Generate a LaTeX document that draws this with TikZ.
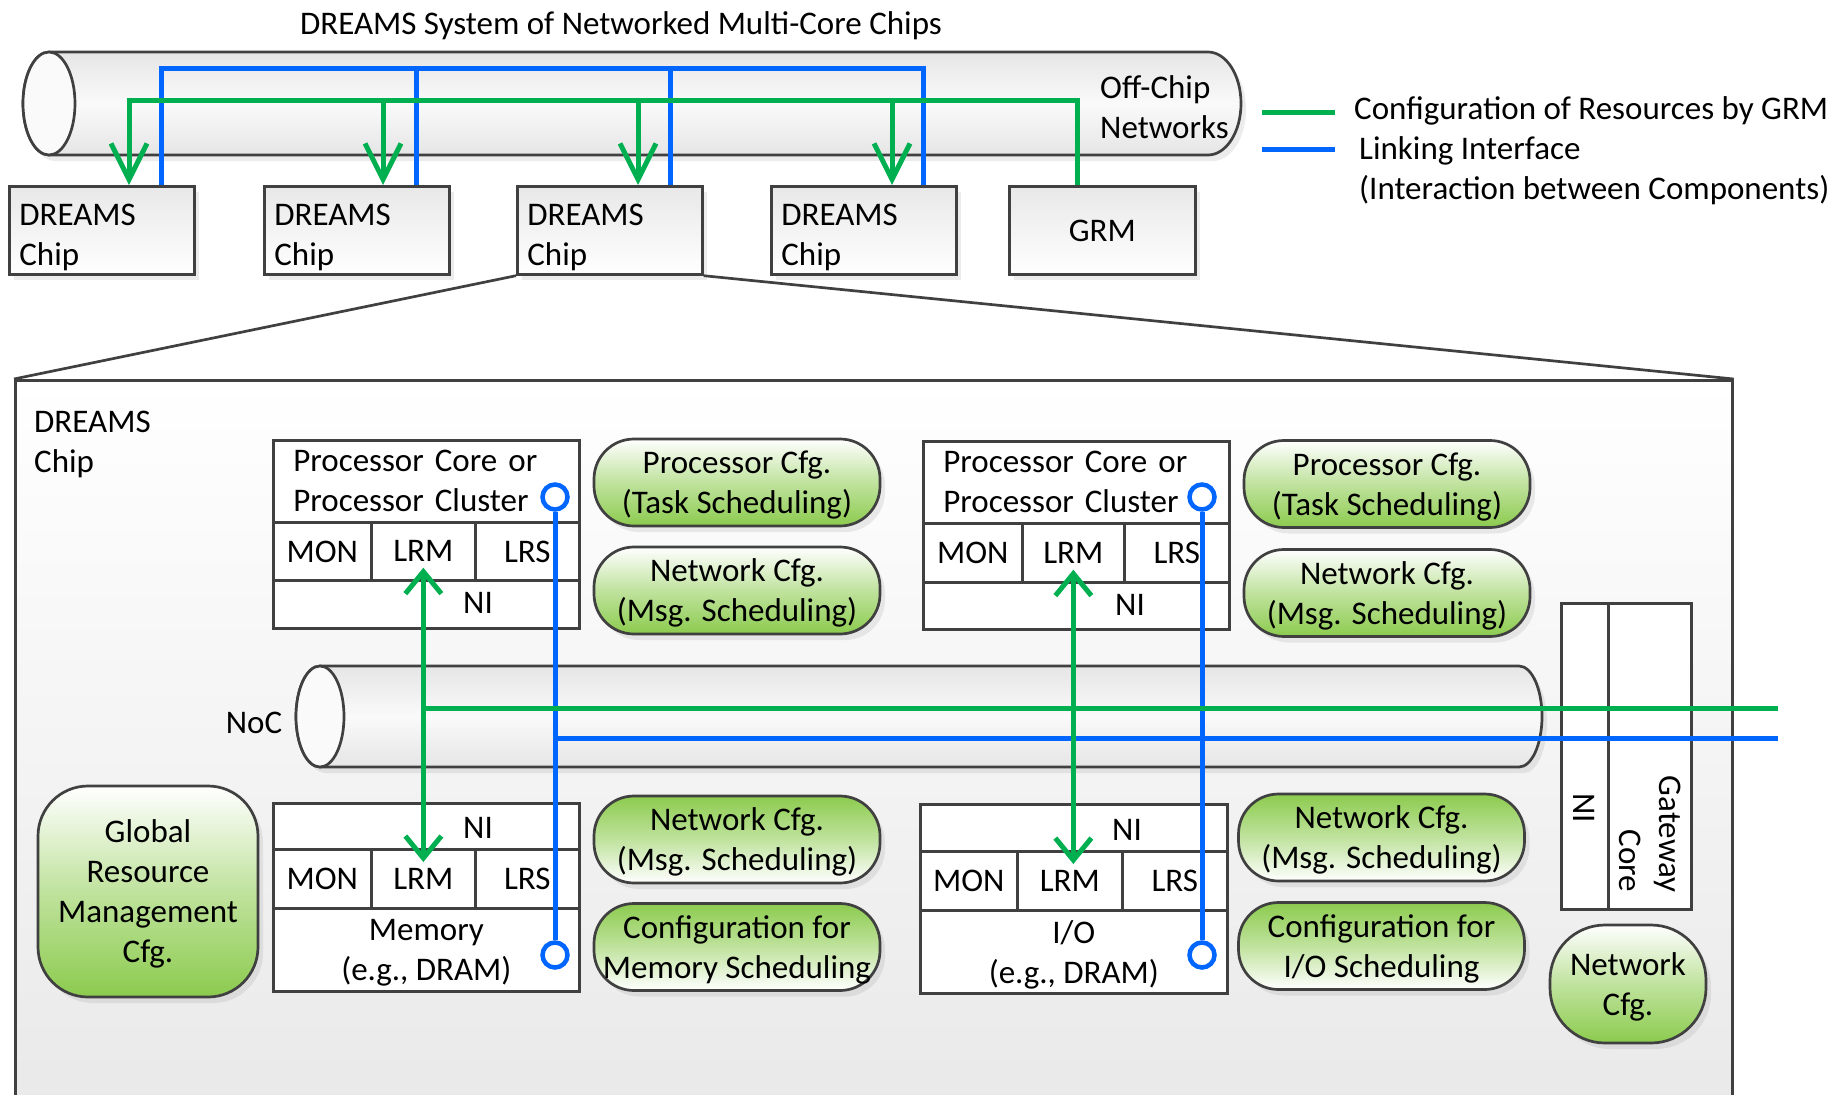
\documentclass[tikz,border=0pt]{standalone}
\usepackage{fontspec}
\setmainfont{Carlito}
\usetikzlibrary{arrows.meta,shadows}
\definecolor{dk}{HTML}{404040}
\definecolor{ggreen}{HTML}{00B050}
\definecolor{bblue}{HTML}{0066FF}
\definecolor{pgreen}{HTML}{8CCB4E}
\tikzset{
  sh/.style={drop shadow={opacity=0.15, shadow xshift=5pt, shadow yshift=-6pt}},
  frame/.style={draw=dk, line width=2.7pt},
  boxbase/.style={frame, fill=white, inner sep=0pt, anchor=north west},
  cell/.style={boxbase, align=center, text depth=0pt},
  ptitle/.style={boxbase, minimum width=306pt, minimum height=82pt, text width=266pt, align=left},
  chipbox/.style={frame, sh, top color=black!9, bottom color=white, minimum width=185pt, minimum height=88pt, text width=165pt, align=left, inner sep=0pt, anchor=north west, text depth=32pt},
  pillup/.style={frame, sh, rounded corners=40pt, minimum width=286pt, minimum height=87pt, inner sep=0pt, align=center, text depth=0pt, top color=white, bottom color=pgreen, middle color=pgreen!55!white},
  pilldn/.style={pillup, top color=pgreen, bottom color=white, middle color=pgreen!55!white},
  gline/.style={draw=ggreen, line width=5pt},
  bline/.style={draw=bblue, line width=5pt},
  bigtip/.style={-{Straight Barb[length=36pt,width=36pt]}},
  smalltips/.style={{Straight Barb[length=22pt,width=36pt]}-{Straight Barb[length=22pt,width=36pt]}},
  bcirc/.style={circle, draw=bblue, line width=4.5pt, fill=white, minimum size=25pt, inner sep=0pt},
  txt/.style={inner sep=0pt, align=center, text depth=0pt},
  cyl/.style={frame, top color=black!10, bottom color=black!10, middle color=black!2, sh},
  face/.style={frame, fill=black!2},
}
\begin{document}
\begin{tikzpicture}[x=1pt, y=1pt, font=\fontsize{33}{40}\selectfont]
\useasboundingbox (0,0) rectangle (1837,-1095);

% enlarged chip frame
\node[frame, top color=white, bottom color=black!9, minimum width=1717pt, minimum height=760pt, anchor=north west, inner sep=0pt] (big) at (14,-379) {};

% off-chip network cylinder
\path[cyl] (49,-52) -- (1208,-52) arc[start angle=90, end angle=-90, x radius=33pt, y radius=51.5pt] -- (49,-155) arc[start angle=-90, end angle=-270, x radius=26pt, y radius=51.5pt] -- cycle;
\draw[face] (49,-103.5) ellipse [x radius=26pt, y radius=51.5pt];

% chips
\node[chipbox] (chip1) at (8,-185) {DREAMS\\Chip};
\node[chipbox] (chip2) at (263,-185) {DREAMS\\Chip};
\node[chipbox] (chip3) at (516,-185) {DREAMS\\Chip};
\node[chipbox] (chip4) at (770,-185) {DREAMS\\Chip};
\node[chipbox, minimum width=186pt, text width=166pt, align=center, text depth=0pt] (grm) at (1008,-185) {GRM};

% zoom lines
\draw[frame] (chip3.south west) -- (big.north west);
\draw[frame] (chip3.south east) -- (big.north east);

% top blue links
\coordinate (bh1) at (161,-68);
\coordinate (bh2) at (416,-68);
\coordinate (bh3) at (670,-68);
\coordinate (bh4) at (923,-68);
\draw[bline] (bh1 |- chip1.north) -- (bh1) -- (bh4) -- (bh4 |- chip4.north);
\draw[bline] (bh2) -- (bh2 |- chip2.north);
\draw[bline] (bh3) -- (bh3 |- chip3.north);

% top green configuration
\coordinate (gh1) at (129,-100);
\coordinate (gh2) at (383,-100);
\coordinate (gh3) at (638,-100);
\coordinate (gh4) at (892,-100);
\coordinate (gh5) at (1077,-100);
\draw[gline, bigtip] (gh5 |- grm.north) -- (gh5) -- (gh1) -- (gh1 |- chip1.north);
\draw[gline, bigtip] (gh2) -- (gh2 |- chip2.north);
\draw[gline, bigtip] (gh3) -- (gh3 |- chip3.north);
\draw[gline, bigtip] (gh4) -- (gh4 |- chip4.north);

% texts top
\node[txt] (title) at (621,-23) {DREAMS System of Networked Multi-Core Chips};
\node[txt, align=left, anchor=west] (offchip) at (1100,-107) {Off-Chip\\Networks};
\coordinate (lgA) at (1262,-112);
\coordinate (lgB) at (1335,-112);
\coordinate (lbA) at (1262,-149);
\coordinate (lbB) at (1335,-149);
\draw[gline] (lgA) -- (lgB);
\draw[bline] (lbA) -- (lbB);
\node[txt, anchor=west] (lgt) at (1354,-108) {Configuration of Resources by GRM};
\node[txt, align=left, anchor=west] (lbt) at (1359,-168) {Linking Interface\\(Interaction between Components)};

% inside chip
\node[txt, align=left, anchor=west] (biglab) at (34,-442) {DREAMS\\Chip};

% NoC cylinder
\path[cyl] (320,-666) -- (1519,-666) arc[start angle=90, end angle=-90, x radius=23pt, y radius=50.5pt] -- (320,-767) arc[start angle=-90, end angle=-270, x radius=24pt, y radius=50.5pt] -- cycle;
\draw[face] (320,-716.5) ellipse [x radius=24pt, y radius=50.5pt];
\node[txt] (noc) at (254,-723) {NoC};

% gateway
\node[cell, minimum width=47pt, minimum height=306pt] (gwni) at (1560,-602) {};
\node[cell, minimum width=83pt, minimum height=306pt] (gwcore) at (1607,-602) {};
\node[txt, rotate=-90] (gwnit) at (1584,-808) {NI};
\node[txt, rotate=-90, align=right] (gwct) at (1650,-834) {Gateway\\Core};

% processor block 1
\node[ptitle] (p1t) at (272,-439) {Processor Core or\\Processor Cluster};
\node[cell, minimum width=98pt, minimum height=58pt] (p1mon) at (272,-521) {MON};
\node[cell, minimum width=104pt, minimum height=58pt] (p1lrm) at (370,-521) {LRM};
\node[cell, minimum width=104pt, minimum height=58pt] (p1lrs) at (474,-521) {LRS};
\node[cell, minimum width=306pt, minimum height=48pt] (p1ni) at (272,-579) {};
\node[txt] (p1nit) at (478,-603) {NI};

% processor block 2
\node[ptitle] (p2t) at (922,-440) {Processor Core or\\Processor Cluster};
\node[cell, minimum width=99pt, minimum height=59pt] (p2mon) at (922,-522) {MON};
\node[cell, minimum width=102pt, minimum height=59pt] (p2lrm) at (1021,-522) {LRM};
\node[cell, minimum width=105pt, minimum height=59pt] (p2lrs) at (1123,-522) {LRS};
\node[cell, minimum width=306pt, minimum height=47pt] (p2ni) at (922,-581) {};
\node[txt] (p2nit) at (1130,-605) {NI};

% memory block
\node[cell, minimum width=306pt, minimum height=46pt] (m1ni) at (272,-802) {};
\node[txt] (m1nit) at (478,-828) {NI};
\node[cell, minimum width=98pt, minimum height=59pt] (m1mon) at (272,-848) {MON};
\node[cell, minimum width=104pt, minimum height=59pt] (m1lrm) at (370,-848) {LRM};
\node[cell, minimum width=104pt, minimum height=59pt] (m1lrs) at (474,-848) {LRS};
\node[cell, minimum width=306pt, minimum height=83pt] (m1b) at (272,-907) {Memory\\(e.g., DRAM)};

% io block
\node[cell, minimum width=307pt, minimum height=47pt] (ioni) at (919,-803) {};
\node[txt] (ionit) at (1127,-830) {NI};
\node[cell, minimum width=97pt, minimum height=59pt] (iomon) at (919,-850) {MON};
\node[cell, minimum width=105pt, minimum height=59pt] (iolrm) at (1016,-850) {LRM};
\node[cell, minimum width=105pt, minimum height=59pt] (iolrs) at (1121,-850) {LRS};
\node[cell, minimum width=307pt, minimum height=83pt] (iob) at (919,-909) {I/O\\(e.g., DRAM)};

% pills
\node[pillup] (pp1) at (737,-482.5) {Processor Cfg.\\(Task Scheduling)};
\node[pillup] (pn1) at (737,-590.5) {Network Cfg.\\(Msg. Scheduling)};
\node[pillup] (pp2) at (1387,-484) {Processor Cfg.\\(Task Scheduling)};
\node[pillup] (pn2) at (1387,-593) {Network Cfg.\\(Msg. Scheduling)};
\node[pilldn] (pn3) at (737,-839.5) {Network Cfg.\\(Msg. Scheduling)};
\node[pilldn] (pmem) at (737,-947) {Configuration for\\Memory Scheduling};
\node[pilldn] (pn4) at (1381.5,-837.5) {Network Cfg.\\(Msg. Scheduling)};
\node[pilldn] (pio) at (1381.5,-946) {Configuration for\\I/O Scheduling};
\node[pillup, minimum width=220pt, minimum height=211pt, rounded corners=50pt] (glob) at (148,-891.5) {Global\\Resource\\Management\\Cfg.};
\node[pillup, minimum width=156pt, minimum height=118pt, rounded corners=55pt] (pnet) at (1628,-984) {Network\\Cfg.};

% blue circles
\node[bcirc] (bc1) at (555,-497) {};
\node[bcirc] (bc2) at (1202,-497) {};
\node[bcirc] (bc3) at (555,-955) {};
\node[bcirc] (bc4) at (1202,-955) {};

% on-chip lines
\coordinate (gend) at (1778,-708);
\coordinate (bend) at (1778,-738);
\draw[bline] (bc1) -- (bc3);
\draw[bline] (bc2) -- (bc4);
\draw[bline] (bc1 |- bend) -- (bend);
\draw[gline, smalltips] ([yshift=14pt]p1lrm.south) -- ([yshift=-14pt]m1lrm.north);
\draw[gline] (p1lrm.south |- gend) -- (gend);
\coordinate (g2b) at (p2lrm.south |- iolrm.north);
\draw[gline, smalltips] ([yshift=14pt]p2lrm.south) -- ([yshift=-14pt]g2b);
\end{tikzpicture}
\end{document}
